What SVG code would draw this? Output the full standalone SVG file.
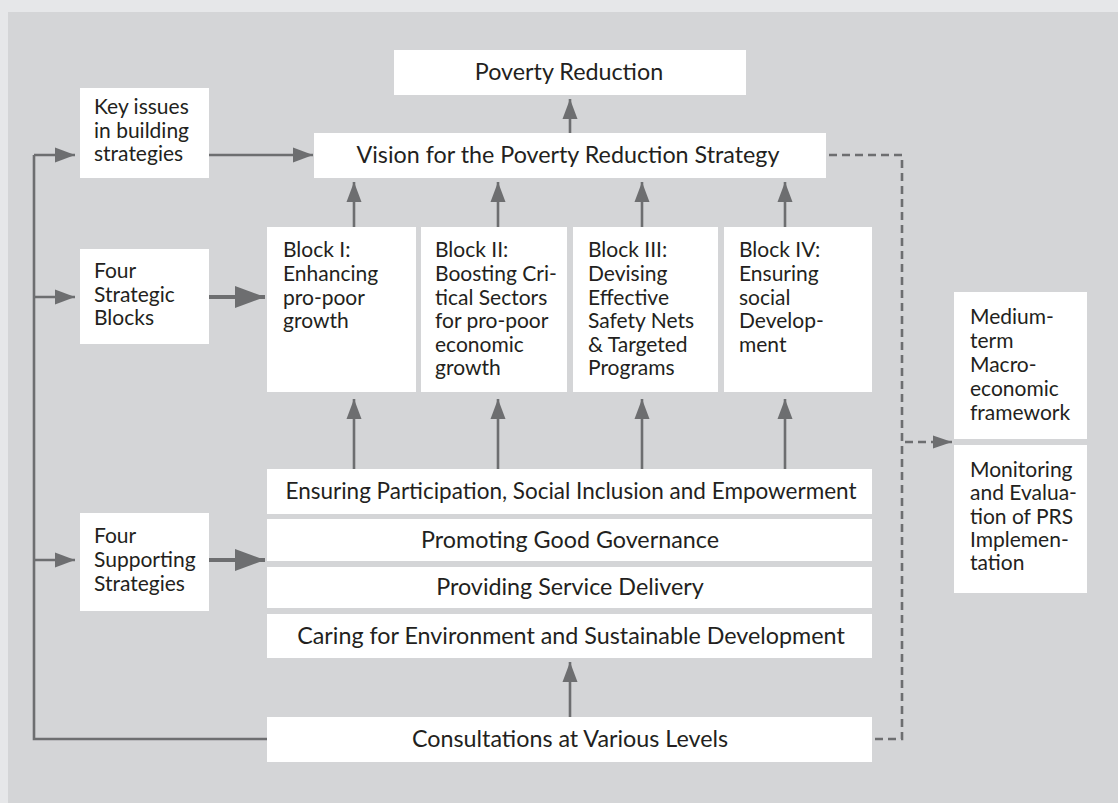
<svg xmlns="http://www.w3.org/2000/svg" width="1118" height="803" viewBox="0 0 1118 803">
<defs>
<style>
.box{fill:#ffffff}
.t{font-family:Lato,"Liberation Sans",sans-serif;font-size:21px;fill:#231f20}
.c{text-anchor:middle;font-size:23.3px}
.ln{stroke:#6d6e70;stroke-width:2.6;fill:none}
.thick{stroke:#6d6e70;stroke-width:4;fill:none}
.dash{stroke:#6d6e70;stroke-width:2.6;fill:none;stroke-dasharray:8 5}
</style>
<marker id="ah" markerUnits="userSpaceOnUse" markerWidth="20" markerHeight="16" refX="20" refY="8" orient="auto"><path d="M0,0.5 L20,8 L0,15.5 z" fill="#6d6e70"/></marker>
<marker id="ahb" markerUnits="userSpaceOnUse" markerWidth="30" markerHeight="22" refX="30" refY="11" orient="auto"><path d="M0,0 L30,11 L0,22 z" fill="#6d6e70"/></marker>
<marker id="ahs" markerUnits="userSpaceOnUse" markerWidth="19" markerHeight="14" refX="19" refY="7" orient="auto"><path d="M0,0.5 L19,7 L0,13.5 z" fill="#6d6e70"/></marker>
</defs>
<rect x="0" y="0" width="1118" height="803" fill="#e6e7e9"/>
<rect x="8" y="12" width="1110" height="791" fill="#d4d5d7"/>

<g id="connectors">
<path class="ln" d="M570,133 V99" marker-end="url(#ah)"/>
<path class="ln" d="M354,227 V182" marker-end="url(#ah)"/>
<path class="ln" d="M498,227 V182" marker-end="url(#ah)"/>
<path class="ln" d="M642,227 V182" marker-end="url(#ah)"/>
<path class="ln" d="M785,227 V182" marker-end="url(#ah)"/>
<path class="ln" d="M354,469 V399" marker-end="url(#ah)"/>
<path class="ln" d="M498,469 V399" marker-end="url(#ah)"/>
<path class="ln" d="M642,469 V399" marker-end="url(#ah)"/>
<path class="ln" d="M785,469 V399" marker-end="url(#ah)"/>
<path class="ln" d="M570,717 V662" marker-end="url(#ah)"/>
<path class="ln" d="M209,155 H313" marker-end="url(#ah)"/>
<path class="ln" d="M267,739 H34 V155"/>
<path class="ln" d="M34,155 H75" marker-end="url(#ah)"/>
<path class="ln" d="M34,297 H75" marker-end="url(#ah)"/>
<path class="ln" d="M34,560 H75" marker-end="url(#ah)"/>
<path class="thick" d="M209,297 H265" marker-end="url(#ahb)"/>
<path class="thick" d="M209,560 H265" marker-end="url(#ahb)"/>
<path class="dash" d="M829,155 H902 V739 H874"/>
<path class="dash" d="M905,442 H952" marker-end="url(#ahs)"/>
</g>

<g id="poverty-reduction"><rect class="box" x="394" y="50" width="352" height="45"/><text class="t c" x="569" y="80">Poverty Reduction</text></g>
<g id="vision"><rect class="box" x="314" y="133" width="512" height="45"/><text class="t c" x="568" y="163">Vision for the Poverty Reduction Strategy</text></g>
<g id="key-issues"><rect class="box" x="80" y="88" width="129" height="90"/><text class="t" x="94"><tspan x="94" y="114">Key issues</tspan><tspan x="94" y="138">in building</tspan><tspan x="94" y="161">strategies</tspan></text></g>
<g id="four-strategic"><rect class="box" x="80" y="249" width="129" height="95"/><text class="t" x="94"><tspan x="94" y="278">Four</tspan><tspan x="94" y="302">Strategic</tspan><tspan x="94" y="325">Blocks</tspan></text></g>
<g id="four-supporting"><rect class="box" x="80" y="513" width="129" height="98"/><text class="t" x="94"><tspan x="94" y="543">Four</tspan><tspan x="94" y="567">Supporting</tspan><tspan x="94" y="591">Strategies</tspan></text></g>

<g id="block-1"><rect class="box" x="267" y="227" width="149" height="165"/><text class="t"><tspan x="283" y="257">Block I:</tspan><tspan x="283" y="281">Enhancing</tspan><tspan x="283" y="305">pro-poor</tspan><tspan x="283" y="328">growth</tspan></text></g>
<g id="block-2"><rect class="box" x="421" y="227" width="146" height="165"/><text class="t"><tspan x="435" y="257">Block II:</tspan><tspan x="435" y="281">Boosting Cri-</tspan><tspan x="435" y="305">tical Sectors</tspan><tspan x="435" y="328">for pro-poor</tspan><tspan x="435" y="352">economic</tspan><tspan x="435" y="375">growth</tspan></text></g>
<g id="block-3"><rect class="box" x="573" y="227" width="145" height="165"/><text class="t"><tspan x="588" y="257">Block III:</tspan><tspan x="588" y="281">Devising</tspan><tspan x="588" y="305">Effective</tspan><tspan x="588" y="328">Safety Nets</tspan><tspan x="588" y="352">&amp; Targeted</tspan><tspan x="588" y="375">Programs</tspan></text></g>
<g id="block-4"><rect class="box" x="724" y="227" width="148" height="165"/><text class="t"><tspan x="739" y="257">Block IV:</tspan><tspan x="739" y="281">Ensuring</tspan><tspan x="739" y="305">social</tspan><tspan x="739" y="328">Develop-</tspan><tspan x="739" y="352">ment</tspan></text></g>

<g id="ensuring-participation"><rect class="box" x="267" y="469" width="605" height="45"/><text class="t c" x="571" y="499" style="font-size:22.5px">Ensuring Participation, Social Inclusion and Empowerment</text></g>
<g id="good-governance"><rect class="box" x="267" y="519" width="605" height="42"/><text class="t c" x="570" y="548">Promoting Good Governance</text></g>
<g id="service-delivery"><rect class="box" x="267" y="567" width="605" height="41"/><text class="t c" x="570" y="595">Providing Service Delivery</text></g>
<g id="environment"><rect class="box" x="267" y="614" width="605" height="44"/><text class="t c" x="571" y="644">Caring for Environment and Sustainable Development</text></g>
<g id="consultations"><rect class="box" x="267" y="717" width="605" height="45"/><text class="t c" x="570" y="747">Consultations at Various Levels</text></g>

<g id="medium-term"><rect class="box" x="954" y="292" width="133" height="147"/><text class="t"><tspan x="970" y="324">Medium-</tspan><tspan x="970" y="348">term</tspan><tspan x="970" y="372">Macro-</tspan><tspan x="970" y="396">economic</tspan><tspan x="970" y="420">framework</tspan></text></g>
<g id="monitoring"><rect class="box" x="954" y="445" width="133" height="148"/><text class="t"><tspan x="970" y="477">Monitoring</tspan><tspan x="970" y="500">and Evalua-</tspan><tspan x="970" y="524">tion of PRS</tspan><tspan x="970" y="547">Implemen-</tspan><tspan x="970" y="570">tation</tspan></text></g>
</svg>
